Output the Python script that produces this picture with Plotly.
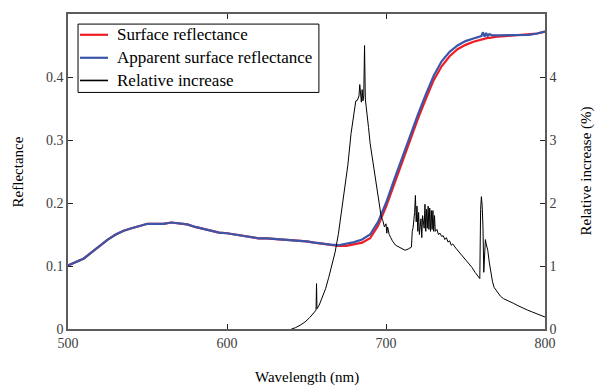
import plotly.graph_objects as go

# Wavelength grid for reflectance curves (nm)
wl_refl = [500, 505, 510, 515, 520, 525, 530, 535, 540, 545, 550, 555, 560, 565, 570,
           575, 580, 585, 590, 595, 600, 605, 610, 615, 620, 625, 630, 635, 640, 645,
           650, 655, 660, 665, 670, 675, 680, 685, 690, 695, 700, 705, 710, 715, 720,
           725, 730, 735, 740, 745, 750, 755, 758, 760, 761, 762, 763, 764, 765, 767,
           770, 775, 780, 785, 790, 795, 800]

surface_refl = [0.101, 0.106, 0.112, 0.122, 0.132, 0.142, 0.150, 0.156, 0.160, 0.164,
                0.167, 0.167, 0.167, 0.169, 0.168, 0.166, 0.162, 0.159, 0.156, 0.153,
                0.152, 0.150, 0.147, 0.145, 0.144, 0.144, 0.143, 0.143, 0.142, 0.140,
                0.139, 0.137, 0.135, 0.133, 0.132, 0.132, 0.134, 0.137, 0.144, 0.164,
                0.194, 0.229, 0.264, 0.299, 0.333, 0.365, 0.395, 0.417, 0.433, 0.444,
                0.451, 0.456, 0.458, 0.460, 0.460, 0.461, 0.461, 0.462, 0.462, 0.463,
                0.464, 0.465, 0.466, 0.466, 0.467, 0.469, 0.472]

apparent_refl = [0.101, 0.106, 0.112, 0.122, 0.132, 0.142, 0.150, 0.156, 0.160, 0.164,
                 0.167, 0.167, 0.167, 0.169, 0.168, 0.166, 0.162, 0.159, 0.156, 0.153,
                 0.152, 0.150, 0.147, 0.145, 0.144, 0.144, 0.143, 0.143, 0.142, 0.140,
                 0.139, 0.137, 0.135, 0.134, 0.133, 0.135, 0.138, 0.142, 0.150, 0.170,
                 0.200, 0.236, 0.271, 0.306, 0.340, 0.372, 0.402, 0.425, 0.440, 0.450,
                 0.457, 0.461, 0.463, 0.465, 0.471, 0.464, 0.470, 0.465, 0.468, 0.466,
                 0.466, 0.466, 0.467, 0.467, 0.467, 0.469, 0.472]

# Relative increase (%) — right axis
wl_rel = [640.5, 643, 646, 649, 652, 655, 656, 656.3, 656.6, 658, 660, 662, 664, 666, 668,
          670, 672, 674, 676, 678, 680, 681, 682, 683, 683.5, 684, 684.5, 685, 685.5, 686,
          686.5, 687, 687.5, 688, 689, 690, 691, 692, 693, 694, 695, 696, 697, 698, 699,
          700, 700.5, 701, 702, 703, 704, 706, 708, 710, 712, 714, 716, 716.5, 717, 718,
          718.5, 719, 719.5, 720, 720.5, 721, 722, 722.5, 723, 724, 724.5, 725, 725.5, 726,
          726.5, 727, 727.5, 728, 728.5, 729, 729.5, 730, 730.5, 731, 732, 733, 734, 735,
          736, 737, 738, 739, 740, 741, 742, 744, 746, 748, 750, 752, 754, 756, 758, 759,
          759.5, 760, 760.5, 761, 761.5, 762, 762.5, 763, 764, 765, 766, 767, 768, 770,
          772, 774, 776, 778, 780, 783, 786, 789, 792, 795, 798, 800]

rel_increase = [0.0, 0.02, 0.06, 0.11, 0.18, 0.28, 0.30, 0.72, 0.32, 0.38, 0.50, 0.64,
                0.82, 1.00, 1.22, 1.50, 1.85, 2.20, 2.60, 3.10, 3.50, 3.62, 3.63, 3.70,
                3.88, 3.72, 3.60, 3.80, 3.62, 3.70, 4.50, 3.65, 3.55, 3.40, 3.20, 2.95,
                2.78, 2.60, 2.42, 2.30, 2.16, 1.95, 1.78, 1.72, 1.62, 1.67, 1.52, 1.62,
                1.50, 1.45, 1.40, 1.33, 1.30, 1.27, 1.25, 1.27, 1.30, 1.55, 1.60, 1.85,
                2.12, 1.70, 1.95, 1.55, 1.85, 1.50, 1.75, 1.45, 1.80, 1.60, 1.98, 1.55,
                1.90, 1.60, 1.95, 1.58, 1.92, 1.55, 1.88, 1.58, 1.88, 1.55, 1.80, 1.55,
                1.58, 1.50, 1.52, 1.47, 1.48, 1.42, 1.45, 1.38, 1.40, 1.33, 1.35, 1.28,
                1.22, 1.15, 1.10, 1.04, 0.98, 0.90, 0.84, 0.80, 1.90, 2.10, 1.95, 1.60,
                0.90, 1.30, 1.42, 1.35, 1.25, 1.05, 0.88, 0.75, 0.66, 0.58, 0.52, 0.48,
                0.46, 0.43, 0.41, 0.37, 0.33, 0.30, 0.27, 0.24, 0.21, 0.19]

x_ticks = [500, 600, 700, 800]
y_ticks = [0, 0.1, 0.2, 0.3, 0.4]
y_ticktext = ["0", "0.1", "0.2", "0.3", "0.4"]
y2_ticks = [0, 1, 2, 3, 4]

series_names = ["Surface reflectance", "Apparent surface reflectance", "Relative increase"]
series_colors = ["#ee1c25", "#3b55a8", "black"]
series_widths = [2.2, 2.2, 1]

SERIF = "Liberation Serif"
AXIS_COLOR = "#5c5c5c"
TICK_FONT = dict(family=SERIF, size=14, color="#3c3c3c")
TITLE_FONT = dict(family=SERIF, size=15, color="black")

fig = go.Figure()
fig.add_trace(go.Scatter(x=wl_refl, y=surface_refl, mode="lines",
                         name=series_names[0], showlegend=False,
                         line=dict(color=series_colors[0], width=series_widths[0])))
fig.add_trace(go.Scatter(x=wl_refl, y=apparent_refl, mode="lines",
                         name=series_names[1], showlegend=False,
                         line=dict(color=series_colors[1], width=series_widths[1])))
fig.add_trace(go.Scatter(x=wl_rel, y=rel_increase, mode="lines",
                         name=series_names[2], yaxis="y2", showlegend=False,
                         line=dict(color=series_colors[2], width=series_widths[2])))

# Legend box (drawn in paper coordinates, top-left of the plot)
box_x0, box_x1, box_y0, box_y1 = 0.021, 0.526, 0.751, 0.968
sample_x0, sample_x1, text_x = 0.0252, 0.0839, 0.0985
row_y = [0.934, 0.861, 0.789]

shapes = [dict(type="rect", xref="paper", yref="paper", x0=box_x0, x1=box_x1,
               y0=box_y0, y1=box_y1, line=dict(color="black", width=1),
               fillcolor="white", layer="above")]
annotations = []
for name, color, width, ry in zip(series_names, series_colors, series_widths, row_y):
    shapes.append(dict(type="line", xref="paper", yref="paper", x0=sample_x0,
                       x1=sample_x1, y0=ry, y1=ry,
                       line=dict(color=color, width=max(width, 1.6)), layer="above"))
    annotations.append(dict(text=name, xref="paper", yref="paper", x=text_x, y=ry,
                            xanchor="left", yanchor="middle", showarrow=False,
                            font=dict(family=SERIF, size=17, color="black")))

annotations += [
    dict(text="Reflectance", xref="paper", yref="paper", x=-0.105, y=0.5,
         textangle=-90, showarrow=False, xanchor="center", yanchor="middle",
         font=TITLE_FONT),
    dict(text="Relative increase (%)", xref="paper", yref="paper", x=1.086, y=0.5,
         textangle=-90, showarrow=False, xanchor="center", yanchor="middle",
         font=TITLE_FONT),
    dict(text="Wavelength (nm)", xref="paper", yref="paper", x=0.5, y=-0.155,
         showarrow=False, xanchor="center", yanchor="middle",
         font=TITLE_FONT),
]

fig.update_layout(
    width=595, height=386,
    margin=dict(l=68, r=50, t=12, b=57),
    paper_bgcolor="white", plot_bgcolor="white",
    font=dict(family=SERIF, color="black"),
    showlegend=False,
    xaxis=dict(range=[500, 800], tickvals=x_ticks, ticks="inside", ticklen=5,
               tickcolor="#222", showline=True, linecolor=AXIS_COLOR, linewidth=1.5,
               mirror="ticks", showgrid=False, zeroline=False, tickfont=TICK_FONT),
    yaxis=dict(range=[0, 0.5], tickvals=y_ticks, ticktext=y_ticktext, ticks="inside",
               ticklen=5, tickcolor="#222", showline=True, linecolor=AXIS_COLOR,
               linewidth=1.5, showgrid=False, zeroline=False, tickfont=TICK_FONT),
    yaxis2=dict(range=[0, 5], tickvals=y2_ticks, overlaying="y", side="right",
                ticks="inside", ticklen=5, tickcolor="#222", showline=True,
                linecolor=AXIS_COLOR, linewidth=1.5, showgrid=False, zeroline=False,
                tickfont=TICK_FONT),
    shapes=shapes,
    annotations=annotations,
)

fig.write_html("out.html", config={"displayModeBar": False},
               post_script="document.body.style.margin='0px';document.body.style.padding='0px';")
